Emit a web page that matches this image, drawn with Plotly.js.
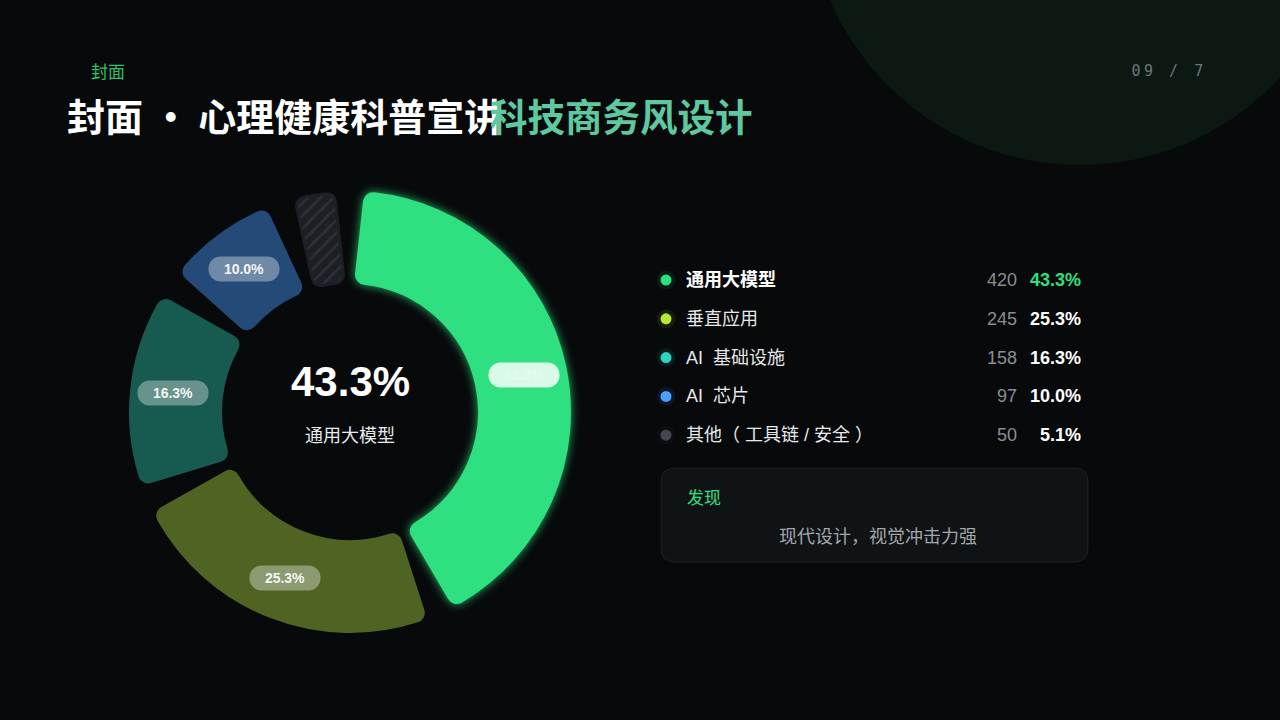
<!DOCTYPE html>
<html><head><meta charset="utf-8">
<script src="https://cdn.plot.ly/plotly-3.0.1.min.js"></script>
<style>
html,body{margin:0;padding:0;background:#07090b;}
#chart{width:1280px;height:720px;}
.annotation rect.bg{rx:12px;ry:12px;}
</style></head>
<body>
<svg width="0" height="0" style="position:absolute">
 <defs>
  <filter id="glow" x="-30%" y="-30%" width="160%" height="160%">
   <feGaussianBlur in="SourceAlpha" stdDeviation="5" result="blur"/>
   <feFlood flood-color="#2ee07f" flood-opacity="0.8"/>
   <feComposite in2="blur" operator="in" result="g"/>
   <feMerge><feMergeNode in="g"/><feMergeNode in="SourceGraphic"/></feMerge>
  </filter>
 </defs>
</svg>
<div id="chart"></div>
<script>
// ---- data ----
const categories = ['通用大模型', '垂直应用', 'AI 基础设施', 'AI 芯片', '其他（ 工具链 / 安全 ）'];
const values = [420, 245, 158, 97, 50];
const percentLabels = ['43.3%', '25.3%', '16.3%', '10.0%', '5.1%'];
const legendColors = ['#2ee07f', '#b5e833', '#2dd4bf', '#4d9fff', '#44474f'];
const segmentColors = ['#2ee07f', '#4f6423', '#175a50', '#244b78', '#1c1f24'];
const hatchedIndex = 4;

// ---- layout constants ----
const W = 1280, H = 720;
const CX = 350, CY = 412, R = 211, RIN = 138;
const GAP = 12.5, LABEL_R = 178;
const FONT = 'Liberation Sans, Noto Sans CJK SC, sans-serif';
const CJK = 'Noto Sans CJK SC, Liberation Sans, sans-serif';

const total = values.reduce((a, b) => a + b, 0);
let cum = 0;
const mids = [], widths = [];
values.forEach(v => {
  const span = v / total * 360;
  mids.push(cum + span / 2);
  widths.push(span - GAP);
  cum += span;
});

const data = [
  {
    type: 'barpolar', subplot: 'polar',
    r: values.map(() => 1), theta: mids, width: widths,
    marker: {color: segmentColors, line: {color: segmentColors, width: 20}},
    hoverinfo: 'none', showlegend: false
  },
  {
    type: 'barpolar', subplot: 'polar',
    r: [1], theta: [mids[hatchedIndex]], width: [widths[hatchedIndex]],
    marker: {
      color: 'rgba(0,0,0,0)', line: {color: 'rgba(0,0,0,0)', width: 14},
      pattern: {shape: '/', fillmode: 'replace', fgcolor: '#2d3137', fgopacity: 1, size: 9, solidity: 0.28}
    },
    hoverinfo: 'none', showlegend: false
  },
  {
    type: 'scatterpolar', subplot: 'polar', mode: 'markers',
    r: values.map(() => 0.5), theta: mids, cliponaxis: false,
    marker: {size: 1, opacity: 0}, hoverinfo: 'none', showlegend: false
  }
];

// legend rows
const rowY = categories.map((c, i) => 280 + i * 38.8);
data.push({
  type: 'scatter', mode: 'markers', x: categories.map(() => 666), y: rowY,
  marker: {size: 19, color: legendColors, opacity: 0.09}, hoverinfo: 'none', showlegend: false
});
data.push({
  type: 'scatter', mode: 'markers', x: categories.map(() => 666), y: rowY,
  marker: {size: 11, color: legendColors}, hoverinfo: 'none', showlegend: false
});

const annotations = [];
function txt(x, y, text, size, color, opts) {
  annotations.push(Object.assign({
    x, y, xref: 'x', yref: 'y', text, showarrow: false,
    xanchor: 'left', yanchor: 'middle',
    font: {family: FONT, size, color}
  }, opts || {}));
}

// header
txt(89, 70, '封面', 17, '#2bc26f', {font: {family: CJK, size: 17, color: '#2bc26f'}});
txt(65, 114, '封面 · 心理健康科普宣讲', 38, '#ffffff', {font: {family: CJK, size: 38, color: '#ffffff', weight: 700}});
txt(488, 114, '科技商务风设计', 37.5, '#5ec8a0', {font: {family: CJK, size: 37.5, color: '#5ec8a0', weight: 700}});
txt(1169, 71, '09 / 7', 15, '#6f7479', {xanchor: 'center', font: {family: 'DejaVu Sans Mono, monospace', size: 15, color: '#6f7479'}});

// donut pills
mids.forEach((m, i) => {
  if (values[i] / total < 0.06) return;
  const a = m * Math.PI / 180;
  annotations.push({
    x: CX + LABEL_R * Math.sin(a), y: CY - LABEL_R * Math.cos(a), xref: 'x', yref: 'y',
    text: '<b>' + percentLabels[i] + '</b>', showarrow: false,
    xanchor: 'center', yanchor: 'middle', width: 68, height: 22, borderpad: 1,
    bgcolor: i === 0 ? 'rgba(255,255,255,0.82)' : 'rgba(255,255,255,0.35)',
    font: {family: FONT, size: 14, color: i === 0 ? 'rgba(255,255,255,0.3)' : '#f4f6f4'}
  });
});

// center
txt(CX, 381, '<b>' + percentLabels[0] + '</b>', 42, '#ffffff', {xanchor: 'center'});
txt(CX, 434, categories[0], 18, '#e8eaec', {xanchor: 'center', font: {family: CJK, size: 18, color: '#e8eaec'}});

// legend text
categories.forEach((c, i) => {
  const shown = c.replace('AI ', 'AI\u00a0\u00a0');
  txt(684, rowY[i], i === 0 ? '<b>' + shown + '</b>' : shown, 18, i === 0 ? '#ffffff' : '#e6e8ea');
  txt(1019, rowY[i], String(values[i]), 18, '#8a8e93', {xanchor: 'right'});
  txt(1083, rowY[i], '<b>' + percentLabels[i] + '</b>', 18, i === 0 ? '#2ee07f' : '#ffffff', {xanchor: 'right'});
});

// findings box
txt(685, 496, '发现', 17, '#2ee07f', {font: {family: CJK, size: 17, color: '#2ee07f'}});
txt(878, 535, '现代设计，视觉冲击力强', 18, '#a3a7ab', {xanchor: 'center', font: {family: CJK, size: 18, color: '#a3a7ab'}});

const shapes = [
  {type: 'circle', xref: 'x', yref: 'y', x0: 1080 - 272, x1: 1080 + 272, y0: -107 - 272, y1: -107 + 272,
   fillcolor: '#0c1913', line: {width: 0}, layer: 'below'},
  {type: 'path', xref: 'x', yref: 'y', layer: 'below',
   path: 'M675,468 L1074,468 Q1088,468 1088,482 L1088,548 Q1088,562 1074,562 L675,562 Q661,562 661,548 L661,482 Q661,468 675,468 Z',
   fillcolor: '#0f1316', line: {color: 'rgba(255,255,255,0.08)', width: 1}}
];

const layout = {
  width: W, height: H, margin: {l: 0, r: 0, t: 0, b: 0},
  paper_bgcolor: '#07090b', plot_bgcolor: 'rgba(0,0,0,0)',
  showlegend: false,
  xaxis: {range: [0, W], visible: false, fixedrange: true, domain: [0, 1]},
  yaxis: {range: [H, 0], visible: false, fixedrange: true, domain: [0, 1]},
  polar: {
    domain: {x: [(CX - R) / W, (CX + R) / W], y: [1 - (CY + R) / H, 1 - (CY - R) / H]},
    hole: RIN / R, bgcolor: 'rgba(0,0,0,0)', barmode: 'overlay',
    radialaxis: {visible: false, range: [0, 1]},
    angularaxis: {visible: false, rotation: 90, direction: 'clockwise'}
  },
  annotations, shapes
};

Plotly.newPlot('chart', data, layout, {staticPlot: true, displayModeBar: false}).then(gd => {
  gd.querySelectorAll('.polarlayer [clip-path]').forEach(e => e.removeAttribute('clip-path'));
  const paths = gd.querySelectorAll('.polarlayer path');
  paths.forEach(p => {
    const fillVal = p.style.fill || p.getAttribute('fill') || '';
    p.style.strokeLinejoin = 'round';
    if (fillVal.indexOf('url') >= 0) {
      p.style.stroke = fillVal;
      p.style.strokeOpacity = '1';
    }
  });
  let barPaths = gd.querySelectorAll('.polarlayer g.point > path');
  if (!barPaths.length) barPaths = gd.querySelectorAll('.polarlayer .barlayer path');
  if (barPaths.length) barPaths[0].style.filter = 'url(#glow)';
  gd.querySelectorAll('.annotation-text').forEach(t => {
    if (t.textContent === '09 / 7') t.style.letterSpacing = '3.5px';
  });
});
</script>
</body></html>
